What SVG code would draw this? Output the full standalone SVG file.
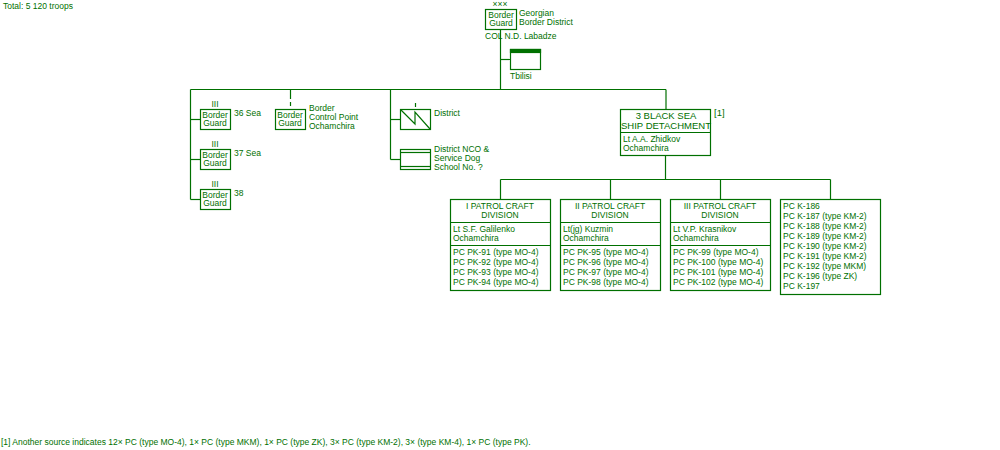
<svg xmlns="http://www.w3.org/2000/svg" width="1000" height="450" viewBox="0 0 1000 450">
<style>
text{font-family:"Liberation Sans",Arial,sans-serif;font-size:8.5px;fill:#007000}
.c{text-anchor:middle}
rect,line,polyline{fill:none;stroke:#007000;stroke-width:1.2}
.big{font-size:9.5px}
</style>
<rect width="1000" height="450" fill="#fff" style="stroke:none"/>
<text x="3" y="9">Total: 5 120 troops</text>
<g id="connectors">
<line x1="500.5" y1="30" x2="500.5" y2="89.5"/>
<line x1="500.5" y1="59.5" x2="510" y2="59.5"/>
<line x1="190.5" y1="89.5" x2="666" y2="89.5"/>
<line x1="666" y1="89.5" x2="666" y2="109"/>
<line x1="190.5" y1="89.5" x2="190.5" y2="199.5"/>
<line x1="190.5" y1="119.5" x2="200" y2="119.5"/>
<line x1="190.5" y1="159.5" x2="200" y2="159.5"/>
<line x1="190.5" y1="199.5" x2="200" y2="199.5"/>
<line x1="290.5" y1="89.5" x2="290.5" y2="99"/>
<line x1="390.5" y1="89.5" x2="390.5" y2="159.5"/>
<line x1="390.5" y1="119.5" x2="400" y2="119.5"/>
<line x1="390.5" y1="159.5" x2="400" y2="159.5"/>
<line x1="665.5" y1="155" x2="665.5" y2="179.5"/>
<line x1="500.5" y1="179.5" x2="830.5" y2="179.5"/>
<line x1="500.5" y1="179.5" x2="500.5" y2="199"/>
<line x1="610.5" y1="179.5" x2="610.5" y2="199"/>
<line x1="720.5" y1="179.5" x2="720.5" y2="199"/>
<line x1="830.5" y1="179.5" x2="830.5" y2="199"/>
</g>
<g id="hq">
<text x="500" y="7" class="c">×××</text>
<rect x="485.5" y="9.5" width="31" height="20"/>
<text x="501" y="18" class="c">Border</text><text x="501" y="26" class="c">Guard</text>
<text x="519" y="16">Georgian</text><text x="519" y="25">Border District</text>
<text x="485" y="39">COL  N.D. Labadze</text>
</g>
<g id="tbilisi">
<rect x="510.5" y="49.5" width="30" height="20"/>
<rect x="510.5" y="49.5" width="30" height="3" style="fill:#007000"/>
<text x="510" y="79">Tbilisi</text>
</g>
<g id="bg36">
<text x="215" y="107" class="c">III</text>
<rect x="200.5" y="109.5" width="30" height="20"/>
<text x="215" y="118" class="c">Border</text><text x="215" y="126" class="c">Guard</text>
<text x="234" y="116">36 Sea</text>
</g>
<g id="bg37">
<text x="215" y="147" class="c">III</text>
<rect x="200.5" y="149.5" width="30" height="20"/>
<text x="215" y="158" class="c">Border</text><text x="215" y="166" class="c">Guard</text>
<text x="234" y="156">37 Sea</text>
</g>
<g id="bg38">
<text x="215" y="187" class="c">III</text>
<rect x="200.5" y="189.5" width="30" height="20"/>
<text x="215" y="198" class="c">Border</text><text x="215" y="206" class="c">Guard</text>
<text x="234" y="196">38</text>
</g>
<g id="bcp">
<line x1="290.5" y1="102" x2="290.5" y2="106"/>
<rect x="275.5" y="109.5" width="30" height="20"/>
<text x="290" y="118" class="c">Border</text><text x="290" y="126" class="c">Guard</text>
<text x="309" y="111">Border</text><text x="309" y="120">Control Point</text><text x="309" y="129">Ochamchira</text>
</g>
<g id="district">
<line x1="415.5" y1="103" x2="415.5" y2="107"/>
<rect x="400.5" y="109.5" width="30" height="20"/>
<polyline points="401,110 415,124 415,112 430,129"/>
<text x="434" y="116">District</text>
</g>
<g id="school">
<rect x="400.5" y="149.5" width="30" height="20"/>
<line x1="400.5" y1="152.5" x2="430.5" y2="152.5"/>
<line x1="400.5" y1="166.5" x2="430.5" y2="166.5"/>
<text x="434" y="152">District NCO &amp;</text><text x="434" y="161">Service Dog</text><text x="434" y="170">School No. ?</text>
</g>
<g id="bsd">
<rect x="620.5" y="109.5" width="90" height="46"/>
<line x1="620.5" y1="132.5" x2="710.5" y2="132.5"/>
<text x="666" y="119" class="c big">3 BLACK SEA</text><text x="666" y="129" class="c big">SHIP DETACHMENT</text>
<text x="623" y="142">Lt  A.A. Zhidkov</text><text x="623" y="151">Ochamchira</text>
<text x="714" y="116" class="big">[1]</text>
</g>
<g id="div1">
<rect x="450.5" y="199.5" width="100" height="91"/>
<line x1="450.5" y1="222.5" x2="550.5" y2="222.5"/><line x1="450.5" y1="245.5" x2="550.5" y2="245.5"/>
<text x="500" y="209" class="c">I PATROL CRAFT</text><text x="500" y="218" class="c">DIVISION</text>
<text x="453" y="232">Lt  S.F. Galilenko</text><text x="453" y="241">Ochamchira</text>
<text x="453" y="255">PC PK-91 (type MO-4)</text><text x="453" y="265">PC PK-92 (type MO-4)</text><text x="453" y="275">PC PK-93 (type MO-4)</text><text x="453" y="285">PC PK-94 (type MO-4)</text>
</g>
<g id="div2">
<rect x="560.5" y="199.5" width="100" height="91"/>
<line x1="560.5" y1="222.5" x2="660.5" y2="222.5"/><line x1="560.5" y1="245.5" x2="660.5" y2="245.5"/>
<text x="610" y="209" class="c">II PATROL CRAFT</text><text x="610" y="218" class="c">DIVISION</text>
<text x="563" y="232">Lt(jg)  Kuzmin</text><text x="563" y="241">Ochamchira</text>
<text x="563" y="255">PC PK-95 (type MO-4)</text><text x="563" y="265">PC PK-96 (type MO-4)</text><text x="563" y="275">PC PK-97 (type MO-4)</text><text x="563" y="285">PC PK-98 (type MO-4)</text>
</g>
<g id="div3">
<rect x="670.5" y="199.5" width="100" height="91"/>
<line x1="670.5" y1="222.5" x2="770.5" y2="222.5"/><line x1="670.5" y1="245.5" x2="770.5" y2="245.5"/>
<text x="720" y="209" class="c">III PATROL CRAFT</text><text x="720" y="218" class="c">DIVISION</text>
<text x="673" y="232">Lt  V.P. Krasnikov</text><text x="673" y="241">Ochamchira</text>
<text x="673" y="255">PC PK-99 (type MO-4)</text><text x="673" y="265">PC PK-100 (type MO-4)</text><text x="673" y="275">PC PK-101 (type MO-4)</text><text x="673" y="285">PC PK-102 (type MO-4)</text>
</g>
<g id="div4">
<rect x="780.5" y="199.5" width="100" height="95"/>
<text x="783" y="209">PC K-186</text>
<text x="783" y="219">PC K-187 (type KM-2)</text>
<text x="783" y="229">PC K-188 (type KM-2)</text>
<text x="783" y="239">PC K-189 (type KM-2)</text>
<text x="783" y="249">PC K-190 (type KM-2)</text>
<text x="783" y="259">PC K-191 (type KM-2)</text>
<text x="783" y="269">PC K-192 (type MKM)</text>
<text x="783" y="279">PC K-196 (type ZK)</text>
<text x="783" y="289">PC K-197</text>
</g>
<text x="1" y="445">[1] Another source indicates 12× PC (type MO-4), 1× PC (type MKM), 1× PC (type ZK), 3× PC (type KM-2), 3×  (type KM-4), 1× PC (type PK).</text>
</svg>
